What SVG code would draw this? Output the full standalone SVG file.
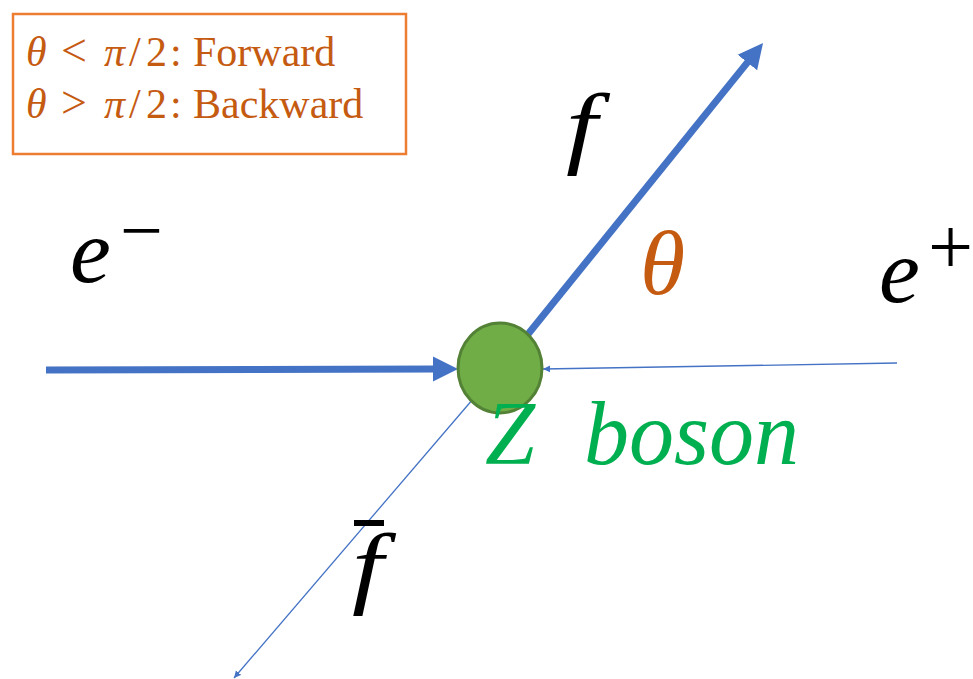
<svg xmlns="http://www.w3.org/2000/svg" width="973" height="679" viewBox="0 0 973 679">
  <style>
    .math { font-family: "Liberation Serif", "Times New Roman", serif; }
    .it { font-style: italic; }
    .box { fill: #C55A11; font-size: 42px; }
    .thick { stroke: #4472C4; stroke-width: 7; fill: none; }
    .thin { stroke: #4472C4; stroke-width: 1.3; fill: none; }
    .lbl { fill: #000000; }
  </style>
  <defs>
    <marker id="bigArrow" markerUnits="userSpaceOnUse" markerWidth="26" markerHeight="26" refX="5" refY="12.5" orient="auto" viewBox="0 0 26 25">
      <path d="M0,0 L25,12.5 L0,25 Z" fill="#4472C4"/>
    </marker>
    <marker id="smallArrow" markerUnits="userSpaceOnUse" markerWidth="8" markerHeight="8" refX="7" refY="3.5" orient="auto" viewBox="0 0 8 7">
      <path d="M0,0 L7,3.5 L0,7 Z" fill="#4472C4"/>
    </marker>
  </defs>
  <rect width="973" height="679" fill="#ffffff"/>

  <g id="legend">
    <rect x="13" y="14" width="393" height="140" fill="none" stroke="#ED7D31" stroke-width="2.5"/>
    <text class="math box" y="66"><tspan class="it" x="26">θ</tspan><tspan x="61" font-size="46">&lt;</tspan><tspan class="it" x="104">π</tspan><tspan x="129">/</tspan><tspan x="146">2</tspan><tspan x="170">:</tspan><tspan x="193">Forward</tspan></text>
    <text class="math box" y="118"><tspan class="it" x="26">θ</tspan><tspan x="61" font-size="46">&gt;</tspan><tspan class="it" x="104">π</tspan><tspan x="129">/</tspan><tspan x="146">2</tspan><tspan x="170">:</tspan><tspan x="193">Backward</tspan></text>
  </g>

  <g id="connectors">
    <line class="thick" x1="46" y1="370" x2="438" y2="369" marker-end="url(#bigArrow)"/>
    <line class="thick" x1="512" y1="354" x2="750.5" y2="58.6" marker-end="url(#bigArrow)"/>
    <line class="thin" x1="897" y1="363" x2="543" y2="369" marker-end="url(#smallArrow)"/>
    <line class="thin" x1="485" y1="385" x2="234" y2="678" marker-end="url(#smallArrow)"/>
  </g>

  <g id="zboson">
    <ellipse cx="500" cy="368" rx="42" ry="45" fill="#70AD47" stroke="#538135" stroke-width="3"/>
    <text class="math it" x="485" y="464" font-size="90" fill="#00B050">Z<tspan x="584">boson</tspan></text>
  </g>

  <g id="electron">
    <text class="math it lbl" x="70" y="282" font-size="92">e</text>
    <text class="math lbl" x="120" y="256" font-size="76">−</text>
  </g>

  <g id="positron">
    <text class="math it lbl" x="879" y="302" font-size="92">e</text>
    <text class="math lbl" x="928" y="274" font-size="80">+</text>
  </g>

  <g id="fermion">
    <text class="math it lbl" transform="translate(566,157) scale(1.25,1)" x="0" y="0" font-size="90">f</text>
  </g>

  <g id="antifermion">
    <line x1="354" y1="523" x2="384" y2="523" stroke="#000000" stroke-width="6"/>
    <text class="math it lbl" transform="translate(352,597) scale(1.25,1)" x="0" y="0" font-size="90">f</text>
  </g>

  <g id="angle">
    <text class="math it" x="640" y="294" font-size="92" fill="#C55A11">θ</text>
  </g>
</svg>
